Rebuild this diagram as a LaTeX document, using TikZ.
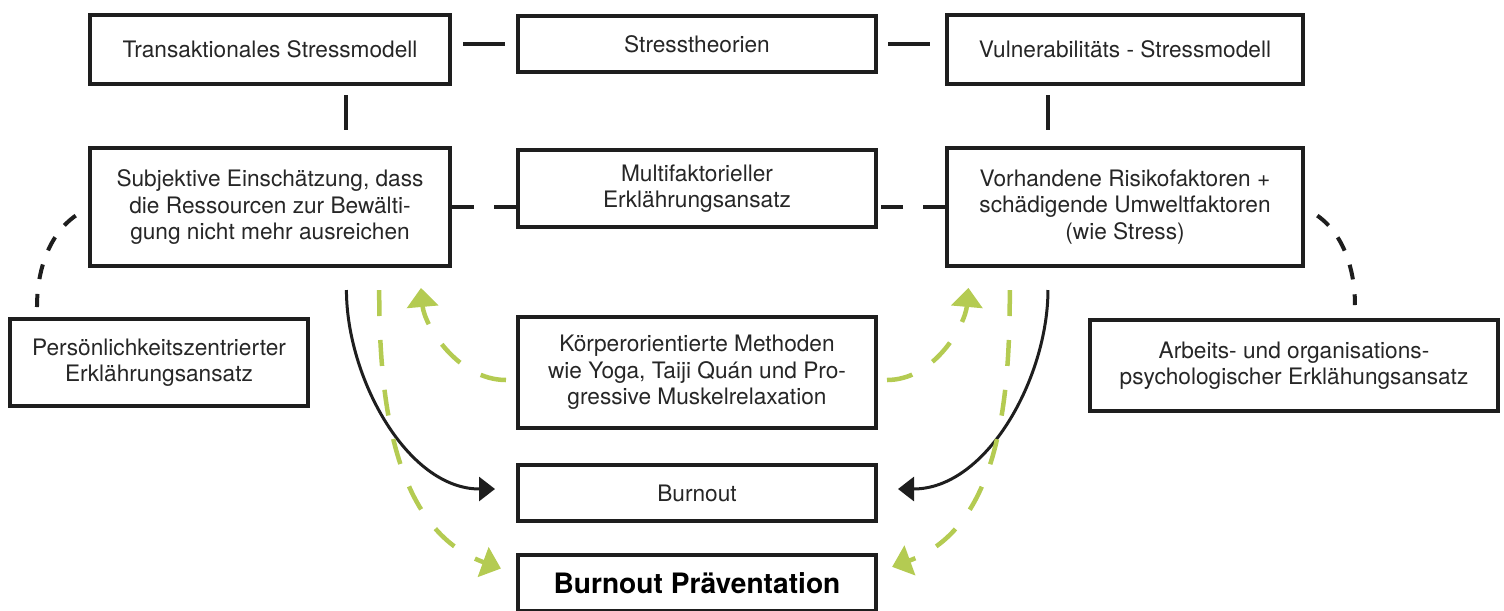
\documentclass[tikz,border=0pt]{standalone}
\usepackage{fontspec}
\setmainfont{TeX Gyre Heros}
\usepackage{tikz}
\usetikzlibrary{arrows.meta}
\usetikzlibrary{calc}
\usetikzlibrary{positioning}

\definecolor{lime}{RGB}{180,203,82}
\definecolor{ink}{RGB}{30,30,30}

\begin{document}
\begin{tikzpicture}[
    box/.style={draw=ink,line width=0.08cm,rectangle,inner sep=0pt,align=center,text=black!85,
      font=\fontsize{12.9}{15}\selectfont},
    link/.style={color=ink,line width=0.08cm},
    dlink/.style={link,dash pattern=on 0.44cm off 0.4cm},
    curl/.style={link,dash pattern=on 0.3cm off 0.3cm},
    flow/.style={color=ink,line width=0.06cm,-{Triangle[length=0.32cm,width=0.48cm]}},
    help/.style={color=lime,line width=0.09cm,dash pattern=on 0.52cm off 0.48cm,
      -{Triangle[length=0.38cm,width=0.62cm]}}
  ]

  \useasboundingbox (0,0) rectangle (30.08,-12.2);

  % theories
  \node [box,minimum width=7.20cm,minimum height=1.38cm] (trans) at (5.40,-0.99) {Transaktionales Stressmodell};
  \node [box,minimum width=7.16cm,minimum height=1.12cm] (theo) at (13.94,-0.88) {Stresstheorien};
  \node [box,minimum width=7.12cm,minimum height=1.38cm] (vuln) at (22.50,-0.99) {Vulnerabilitäts - Stressmodell};

  \node [box,minimum width=7.20cm,minimum height=2.36cm] (subj) at (5.40,-4.14)
    {Subjektive Einschätzung, dass\\die Ressourcen zur Bewälti-\\gung nicht mehr ausreichen};
  \node [box,minimum width=7.16cm,minimum height=1.54cm] (multi) at (13.94,-3.77)
    {Multifaktorieller\\Erklährungsansatz};
  \node [box,minimum width=7.12cm,minimum height=2.36cm] (vorh) at (22.50,-4.14)
    {Vorhandene Risikofaktoren +\\schädigende Umweltfaktoren\\(wie Stress)};

  \node [box,minimum width=5.96cm,minimum height=1.74cm] (pers) at (3.18,-7.25)
    {Persönlichkeitszentrierter\\Erklährungsansatz};
  \node [box,minimum width=8.16cm,minimum height=1.82cm] (arb) at (25.88,-7.31)
    {Arbeits- und organisations-\\psychologischer Erklähungsansatz};

  % prevention
  \node [box,minimum width=7.16cm,minimum height=2.22cm] (koerper) at (13.94,-7.45)
    {Körperorientierte Methoden\\wie Yoga, Taiji Quán und Pro-\\gressive Muskelrelaxation};
  \node [box,minimum width=7.16cm,minimum height=1.12cm,below=0.66cm of koerper] (burnout) {Burnout};
  \node [box,minimum width=7.16cm,minimum height=1.12cm,below=0.6cm of burnout,
    font=\fontsize{16}{18}\selectfont\bfseries,text=black] (praev) {Burnout Präventation};

  \coordinate (tl) at ($(trans.south west)!0.71!(trans.south east)$);
  \coordinate (tr) at ($(vuln.south west)!0.286!(vuln.south east)$);
  \coordinate (gl) at ($(subj.south west)!0.80!(subj.south east)$);
  \coordinate (gr) at ($(vorh.south west)!0.18!(vorh.south east)$);
  \coordinate (ul) at ($(subj.south west)!0.91!(subj.south east)$);
  \coordinate (ur) at ($(vorh.south west)!0.07!(vorh.south east)$);
  \coordinate (pl) at ($(pers.north west)!0.096!(pers.north east)$);
  \coordinate (pr) at ($(arb.north west)!0.648!(arb.north east)$);

  \draw [link,shorten <=0.22cm,shorten >=0.22cm] (trans.east |- theo.west) -- (theo.west);
  \draw [link,shorten <=0.2cm,shorten >=0.3cm] (theo.east) -- (theo.east -| vuln.west);
  \draw [link,shorten <=0.18cm,shorten >=0.32cm] (tl) -- (tl |- subj.north);
  \draw [link,shorten <=0.18cm,shorten >=0.32cm] (tr) -- (tr |- vorh.north);

  \draw [dlink] (subj.east) -- (subj.east -| multi.west);
  \draw [dlink] (vorh.west) -- (vorh.west -| multi.east);

  \draw [curl,shorten <=0.3cm,shorten >=0.2cm] (subj.west) to [out=215,in=90] (pl);
  \draw [curl,shorten <=0.3cm,shorten >=0.26cm] (vorh.east) to [out=-35,in=90] (pr);

  \draw [flow,shorten <=0.44cm,shorten >=0.42cm] (tl |- subj.south) to [out=-90,in=180] ([yshift=0.08cm]burnout.west);
  \draw [flow,shorten <=0.44cm,shorten >=0.4cm] (tr |- vorh.south) to [out=-90,in=0] ([yshift=0.08cm]burnout.east);

  \draw [help,shorten <=0.44cm,shorten >=0.32cm] (gl) to [out=-90,in=160] ([yshift=0.18cm]praev.west);
  \draw [help,shorten <=0.44cm,shorten >=0.3cm] (gr) to [out=-90,in=20] ([yshift=0.22cm]praev.east);
  \draw [help,shorten <=0.2cm,shorten >=0.4cm] ([yshift=-0.15cm]koerper.west) to [out=180,in=-85] (ul);
  \draw [help,shorten <=0.18cm,shorten >=0.4cm] ([yshift=-0.15cm]koerper.east) to [out=0,in=-95] (ur);

\end{tikzpicture}
\end{document}
